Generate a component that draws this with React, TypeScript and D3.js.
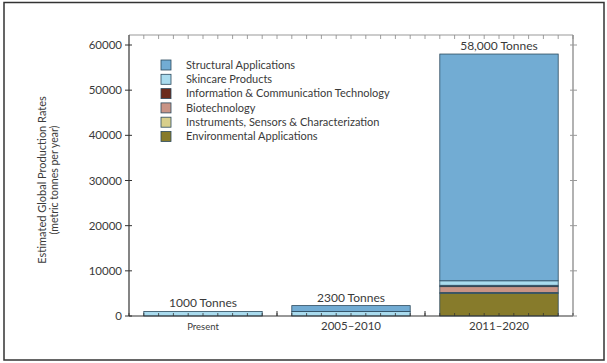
import React from "react";
import * as d3 from "d3";

// Categories along the x axis and the stacked series (metric tonnes per year)
const categories = ["Present", "2005–2010", "2011–2020"];
const seriesNames = [
  "Structural Applications",
  "Skincare Products",
  "Information & Communication Technology",
  "Biotechnology",
  "Instruments, Sensors & Characterization",
  "Environmental Applications",
];
const seriesColors = ["#72acd3", "#a9dbee", "#6b2b1c", "#c99486", "#d8cf8c", "#877b2b"];

// values per category, listed in the same order as seriesNames
const structural = [0, 1300, 50200];
const skincare = [1000, 1000, 1000];
const ict = [0, 0, 300];
const biotech = [0, 0, 1300];
const instruments = [0, 0, 200];
const environmental = [0, 0, 5000];
const totalLabels = ["1000 Tonnes", "2300 Tonnes", "58,000 Tonnes"];
const totals = [1000, 2300, 58000];
const yTicks = [0, 10000, 20000, 30000, 40000, 50000, 60000];

const W = 607;
const H = 363;
const plot = { left: 129, right: 573, top: 35, bottom: 316 };
const FONT = "Lato, 'DejaVu Sans', sans-serif";
const TEXT = "#3a3a3a";

export default function App() {
  const x = d3
    .scaleBand<string>()
    .domain(categories)
    .range([plot.left, plot.right])
    .paddingInner(0.2)
    .paddingOuter(0.1);
  const band = (plot.right - plot.left) / categories.length;
  const y = d3.scaleLinear().domain([0, 60000]).range([plot.bottom, 45]);

  // stack from the bottom: environmental first, structural last
  const stackKeys = seriesNames.slice().reverse();
  const valueByKey: Record<string, number[]> = {
    "Structural Applications": structural,
    "Skincare Products": skincare,
    "Information & Communication Technology": ict,
    Biotechnology: biotech,
    "Instruments, Sensors & Characterization": instruments,
    "Environmental Applications": environmental,
  };
  const rows = categories.map((c, i) => {
    const r: Record<string, number | string> = { cat: c };
    seriesNames.forEach((k) => (r[k] = valueByKey[k][i]));
    return r;
  });
  const stacked = d3.stack<Record<string, number | string>>().keys(stackKeys)(rows as any);
  const colorOf = (k: string) => seriesColors[seriesNames.indexOf(k)];

  const minorCount = 30;
  const minor = d3.range(minorCount + 1).map((i) => plot.left + (i * (plot.right - plot.left)) / minorCount);

  return (
    <div style={{ position: "fixed", left: 0, top: 0 }}>
      <svg width={W} height={H} style={{ display: "block", background: "#fff" }}>
        <rect x={4} y={2.5} width={600} height={357.5} fill="none" stroke="#333" strokeWidth={1.5} />

        {/* stacked bars */}
        {stacked.map((layer) =>
          layer.map((d, i) => {
            const h = y(d[0]) - y(d[1]);
            if (h <= 0) return null;
            const cat = categories[i];
            return (
              <rect
                key={layer.key + cat}
                x={x(cat)!}
                y={y(d[1])}
                width={x.bandwidth()}
                height={h}
                fill={colorOf(layer.key)}
                stroke="#2b4a5e"
                strokeWidth={0.8}
              />
            );
          })
        )}

        {/* frame: dark left/bottom axes, light top/right edges */}
        <line x1={plot.left} x2={plot.right} y1={plot.top} y2={plot.top} stroke="#999" strokeWidth={1.2} />
        <line x1={plot.right} x2={plot.right} y1={plot.top} y2={plot.bottom} stroke="#999" strokeWidth={1.5} />
        <line x1={plot.left} x2={plot.right} y1={plot.bottom} y2={plot.bottom} stroke="#333" strokeWidth={1.2} />
        <line x1={plot.left} x2={plot.left} y1={plot.top} y2={plot.bottom} stroke="#333" strokeWidth={1.2} />

        {/* minor ticks along top and bottom edges */}
        {minor.map((mx, i) => (
          <g key={"m" + i}>
            <line x1={mx} x2={mx} y1={plot.top} y2={plot.top + 4} stroke="#888" strokeWidth={0.8} />
            <line x1={mx} x2={mx} y1={plot.bottom} y2={plot.bottom - 3} stroke="#333" strokeWidth={0.8} />
          </g>
        ))}
        {d3.range(1, categories.length).map((i) => {
          const bx = plot.left + i * band;
          return <line key={"b" + i} x1={bx} x2={bx} y1={plot.bottom} y2={plot.bottom - 5} stroke="#333" strokeWidth={1} />;
        })}

        {/* y ticks */}
        {yTicks.map((t) => (
          <g key={"y" + t}>
            <line x1={plot.left - 4} x2={plot.left + 3} y1={y(t)} y2={y(t)} stroke="#333" strokeWidth={1} />
            <line x1={plot.right - 3} x2={plot.right + 4} y1={y(t)} y2={y(t)} stroke="#999" strokeWidth={1} />
            <text x={plot.left - 7} y={y(t)} dy="0.35em" textAnchor="end" fontSize={11.5} fill={TEXT} fontFamily={FONT}>
              {t}
            </text>
          </g>
        ))}

        {/* category labels */}
        {categories.map((c, i) => (
          <text
            key={"c" + c}
            x={x(c)! + x.bandwidth() / 2}
            y={plot.bottom + 14}
            textAnchor="middle"
            fontSize={i === 0 ? 9.5 : 11.5}
            fill={TEXT}
            fontFamily={FONT}
          >
            {c}
          </text>
        ))}

        {/* total labels above bars */}
        {categories.map((c, i) => (
          <text
            key={"t" + c}
            x={x(c)! + x.bandwidth() / 2}
            y={y(totals[i]) - 4}
            textAnchor="middle"
            fontSize={12}
            fill={TEXT}
            fontFamily={FONT}
          >
            {totalLabels[i]}
          </text>
        ))}

        {/* y axis title */}
        <g transform="translate(46,180) rotate(-90)">
          <text x={0} y={0} textAnchor="middle" fontSize={11} fill={TEXT} fontFamily={FONT}>
            Estimated Global Production Rates
          </text>
          <text x={0} y={12} textAnchor="middle" fontSize={10.5} fill={TEXT} fontFamily={FONT}>
            (metric tonnes per year)
          </text>
        </g>

        {/* legend */}
        {seriesNames.map((n, i) => (
          <g key={"l" + n} transform={`translate(161,${60 + i * 14.3})`}>
            <rect x={0} y={0} width={10} height={10} fill={seriesColors[i]} stroke="#2b4a5e" strokeWidth={0.8} />
            <text x={25} y={5} dy="0.35em" fontSize={11} fill={TEXT} fontFamily={FONT}>
              {n}
            </text>
          </g>
        ))}
      </svg>
    </div>
  );
}
